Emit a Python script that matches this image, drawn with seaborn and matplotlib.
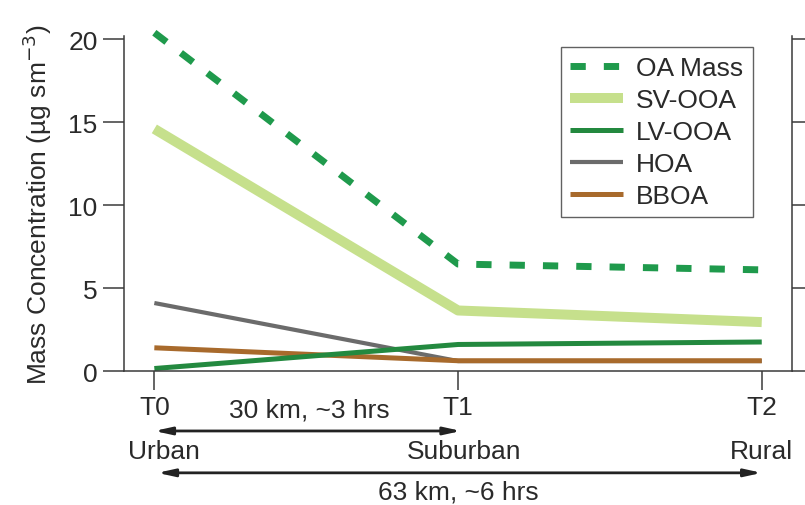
import numpy as np
import pandas as pd
import seaborn as sns
import matplotlib
import matplotlib.pyplot as plt
from matplotlib.lines import Line2D

sns.set_style('ticks')
plt.rcParams['font.family'] = ['Liberation Sans', 'DejaVu Sans']

# data
stations = ['T0', 'T1', 'T2']
sites = ['Urban', 'Suburban', 'Rural']
oa_mass = [20.4, 6.45, 6.1]
sv_ooa = [14.6, 3.65, 2.95]
lv_ooa = [0.15, 1.6, 1.75]
hoa = [4.1, 0.6, 0.6]
bboa = [1.4, 0.62, 0.62]

x = np.arange(len(stations))
fs = 19

fig = plt.figure(figsize=(8.05, 5.06), dpi=100)
ax = fig.add_axes([0.154, 0.2648, 0.83, 0.662])

ink = '#3a3a3a'
txt = '#2a2a2a'
series = [
    # name, values, colour, width, dashed
    ('HOA', hoa, '#6b6b6b', 3.0, False),
    ('BBOA', bboa, '#a86a2c', 3.6, False),
    ('LV-OOA', lv_ooa, '#23893f', 3.6, False),
    ('SV-OOA', sv_ooa, '#c6e08c', 7.2, False),
    ('OA Mass', oa_mass, '#1f9a4c', 5.0, True),
]

handles = {}
for name, vals, col, lw, dashed in series:
    df = pd.DataFrame({'x': x, 'y': vals})
    sns.lineplot(data=df, x='x', y='y', ax=ax, color=col, linewidth=lw,
                 legend=False, clip_on=False)
    ln = ax.lines[-1]
    ln.set_solid_capstyle('butt')
    if dashed:
        ln.set_dashes((2.2, 2.6))
        ln.set_dash_capstyle('butt')
    handles[name] = Line2D([], [], color=col, linewidth=lw,
                           dashes=(2.2, 2.6) if dashed else (None, None))

order = ['OA Mass', 'SV-OOA', 'LV-OOA', 'HOA', 'BBOA']
leg = ax.legend([handles[k] for k in order], order, loc='upper right',
                bbox_to_anchor=(0.941, 0.967), fontsize=fs, frameon=True,
                fancybox=False, handlelength=2.0, handletextpad=0.5,
                borderpad=0.35, labelspacing=0.3, borderaxespad=0,
                labelcolor=txt)
leg.get_frame().set_edgecolor(ink)
leg.get_frame().set_linewidth(1.0)
for h in leg.get_lines():
    h.set_solid_capstyle('butt')

ax.set_xlim(-0.1, 2.1)
ax.set_ylim(0, 20.2)
ax.set_yticks([0, 5, 10, 15, 20])
ax.set_xticks(x)
ax.set_xticklabels(stations)
ax.set_xlabel('')
ax.set_ylabel('Mass Concentration (µg sm$^{-3}$)', fontsize=fs, labelpad=10,
              color=txt)

ax.spines['top'].set_visible(False)
for s in ['left', 'right', 'bottom']:
    ax.spines[s].set_color(ink)
    ax.spines[s].set_linewidth(1.1)
ax.tick_params(axis='y', direction='out', length=15, width=1.1, color=ink,
               labelsize=fs, labelcolor=txt, pad=4, right=True, labelright=False)
ax.tick_params(axis='x', direction='out', length=14, width=1.1, color=ink,
               labelsize=fs, labelcolor=txt, pad=3)

tr = matplotlib.transforms.blended_transform_factory(ax.transData, ax.transAxes)
ax.text(0.51, -0.115, '30 km, ~3 hrs', transform=tr, ha='center', va='center',
        fontsize=fs, color=txt)
for xi, site in zip(x, sites):
    ax.text(xi + (0.03 if xi == 0 else 0.02 if xi == 1 else 0.0), -0.24, site,
            transform=tr, ha='center', va='center', fontsize=fs, color=txt)
ax.text(1.0, -0.36, '63 km, ~6 hrs', transform=tr, ha='center', va='center',
        fontsize=fs, color=txt)

arrow = dict(arrowstyle='<|-|>,head_length=1.0,head_width=0.22', color='#222222',
             lw=2.0, shrinkA=0, shrinkB=0)
ax.annotate('', xy=(1.01, -0.179), xytext=(0.0, -0.179), xycoords=tr,
            textcoords=tr, arrowprops=arrow, annotation_clip=False)
ax.annotate('', xy=(2.0, -0.304), xytext=(0.01, -0.304), xycoords=tr,
            textcoords=tr, arrowprops=arrow, annotation_clip=False)

plt.savefig('out.png', dpi=100)
plt.close()
